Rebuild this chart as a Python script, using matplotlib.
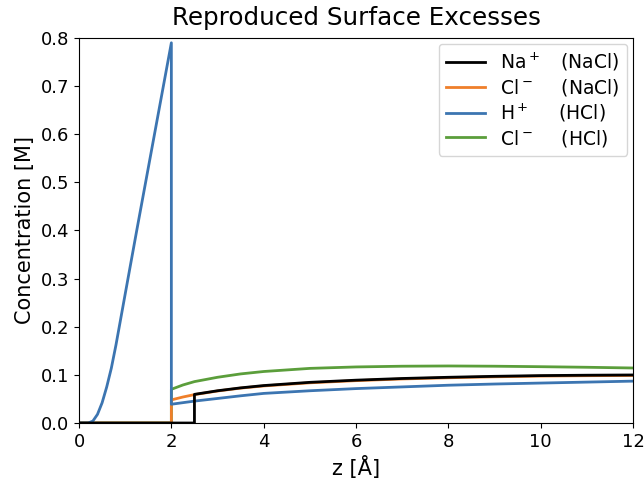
import matplotlib
matplotlib.use("Agg")
import matplotlib.pyplot as plt

# H+ (HCl)
z_h = [0.0, 0.2, 0.3, 0.4, 0.5, 0.6, 0.7, 0.8, 0.9, 1.0, 1.25, 1.5, 1.75, 2.0,
       2.0, 2.5, 3.0, 3.5, 4.0, 5.0, 6.0, 7.0, 8.0, 9.0, 10.0, 11.0, 12.0]
c_h = [0.0, 0.0, 0.004, 0.018, 0.042, 0.075, 0.114, 0.162, 0.215, 0.268, 0.40, 0.53, 0.66, 0.79,
       0.039, 0.0455, 0.051, 0.0565, 0.0615, 0.067, 0.0715, 0.075, 0.0785, 0.081, 0.083, 0.085, 0.087]

# Cl- (HCl)
z_cl_hcl = [0.0, 2.0, 2.0, 2.25, 2.5, 3.0, 3.5, 4.0, 5.0, 6.0, 7.0, 8.0, 9.0, 10.0, 11.0, 12.0]
c_cl_hcl = [0.0, 0.0, 0.070, 0.079, 0.086, 0.095, 0.102, 0.107, 0.1135, 0.1165, 0.118, 0.1185,
            0.118, 0.117, 0.1158, 0.1143]

# Cl- (NaCl)
z_cl_nacl = [0.0, 2.0, 2.0, 2.25, 2.5, 3.0, 3.5, 4.0, 5.0, 6.0, 7.0, 8.0, 9.0, 10.0, 11.0, 12.0]
c_cl_nacl = [0.0, 0.0, 0.048, 0.054, 0.059, 0.0665, 0.0725, 0.077, 0.0835, 0.088, 0.0915, 0.094,
             0.096, 0.0975, 0.0983, 0.0988]

# Na+ (NaCl)
z_na = [0.0, 2.5, 2.5, 3.0, 3.5, 4.0, 5.0, 6.0, 7.0, 8.0, 9.0, 10.0, 11.0, 12.0]
c_na = [0.0, 0.0, 0.0595, 0.067, 0.073, 0.0778, 0.0845, 0.089, 0.0925, 0.095, 0.097, 0.0985,
        0.0993, 0.0998]

fig = plt.figure(figsize=(6.44, 4.82), dpi=100)
ax = fig.add_axes([0.1227, 0.1224, 0.8603, 0.7988])

l4, = ax.plot(z_cl_hcl, c_cl_hcl, color='#5b9e3b', lw=2)
l2, = ax.plot(z_cl_nacl, c_cl_nacl, color='#ef7f2a', lw=2)
l3, = ax.plot(z_h, c_h, color='#3c75b1', lw=2)
l1, = ax.plot(z_na, c_na, color='k', lw=2)

labels = [r'Na$^+\hspace{1.0}$(NaCl)',
          r'Cl$^-\hspace{1.4}$(NaCl)',
          r'H$^+\hspace{1.5}$(HCl)',
          r'Cl$^-\hspace{1.4}$(HCl)']
ax.legend([l1, l2, l3, l4], labels, loc='upper right', fontsize=13.5,
          labelspacing=0.2, borderaxespad=0.3, handlelength=2.1)

ax.set_xlim(0, 12)
ax.set_ylim(0, 0.8)
ax.tick_params(labelsize=13)
ax.set_xlabel('z [Å]', fontsize=15)
ax.set_ylabel('Concentration [M]', fontsize=15)
ax.set_title('Reproduced Surface Excesses', fontsize=17.7, pad=9)

fig.savefig('out.png', dpi=100)
